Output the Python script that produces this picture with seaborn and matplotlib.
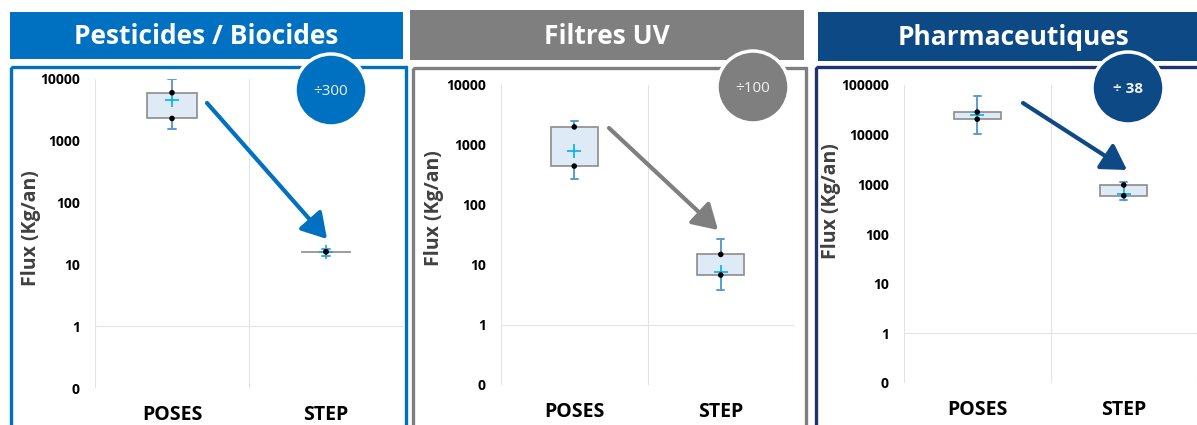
import matplotlib
matplotlib.use("Agg")
import matplotlib.pyplot as plt
import seaborn as sns
import pandas as pd
from matplotlib.patches import Rectangle, Circle, FancyArrowPatch

# ---------------- data ----------------
categories = ["POSES", "STEP"]
titles = ["Pesticides / Biocides", "Filtres UV", "Pharmaceutiques"]
ratios = ["÷300", "÷100", "÷ 38"]
# values per panel: [POSES, STEP]
whislo = [[1550, 13.5], [270, 3.8], [10200, 490]]
q1 = [[2300, 16], [445, 6.8], [20500, 590]]
q3 = [[6000, 16], [2000, 15], [28500, 970]]
whishi = [[10000, 18], [2500, 27], [60000, 1100]]
means = [[4600, 16], [800, 7.6], [25000, 640]]
ymax = [10000, 10000, 100000]
ytick_vals = [[0.1, 1, 10, 100, 1000, 10000],
              [0.1, 1, 10, 100, 1000, 10000],
              [0.1, 1, 10, 100, 1000, 10000, 100000]]
ytick_labels = [["0", "1", "10", "100", "1000", "10000"],
                ["0", "1", "10", "100", "1000", "10000"],
                ["0", "1", "10", "100", "1000", "10000", "100000"]]

# ---------------- style ----------------
sns.set_theme(style="white")
plt.rcParams['font.family'] = ['Open Sans', 'DejaVu Sans']

W, H = 1197, 425
fig = plt.figure(figsize=(W / 100, H / 100), dpi=100)

theme_cols = ["#0070C0", "#7F7F7F", "#0D4A85"]
frame_cols = ["#0070C0", "#7F7F7F", "#1F3370"]
axes_px = [(95, 79, 403, 388), (501, 85, 794, 385), (904, 85, 1197, 383)]
ylabel_pos = [(-0.175, 0.518), (-0.195, 0.59), (-0.215, 0.61)]
xpad = [12, 12, 12]

for i in range(3):
    x0, y0, x1, y1 = axes_px[i]
    ax = fig.add_axes([x0 / W, 1 - y1 / H, (x1 - x0) / W, (y1 - y0) / H])
    ax.set_yscale("log")
    ax.set_xlim(-0.5, 1.5)
    ax.set_ylim(0.1, ymax[i])
    ax.set_facecolor("none")
    for s in ax.spines.values():
        s.set_visible(False)

    # grid lines
    for gx in (-0.5, 0.5, 1.5):
        ax.axvline(gx, color="#E3E3E3", lw=0.8, zorder=0)
    ax.axhline(1, color="#E3E3E3", lw=0.8, zorder=0)

    stats = []
    for j in range(2):
        stats.append(dict(whislo=whislo[i][j], q1=q1[i][j], med=q1[i][j],
                          q3=q3[i][j], whishi=whishi[i][j], mean=means[i][j]))
    ax.bxp(stats, positions=[0, 1], widths=0.32, capwidths=0.05,
           patch_artist=True, showfliers=False, showmeans=False,
           boxprops=dict(facecolor="#DEEBF7", edgecolor="#8C8C8C", lw=1.2),
           whiskerprops=dict(color="#5B9BD5", lw=1.4),
           capprops=dict(color="#5B9BD5", lw=1.4),
           medianprops=dict(visible=False))

    dots = pd.DataFrame({"x": [0, 0, 1, 1],
                         "y": [q1[i][0], q3[i][0], q1[i][1], q3[i][1]]})
    sns.scatterplot(data=dots, x="x", y="y", color="black", s=16,
                    edgecolor="none", ax=ax, zorder=6)
    mdf = pd.DataFrame({"x": [0, 1], "y": means[i]})
    sns.scatterplot(data=mdf, x="x", y="y", marker="+", color="#00B0F0",
                    s=110, linewidth=1.2, ax=ax, zorder=5)

    ax.set_xticks([0, 1])
    ax.set_xticklabels(categories, fontsize=14, fontweight="bold", color="black")
    ax.tick_params(axis="x", length=0, pad=xpad[i])
    ax.set_yticks(ytick_vals[i])
    ax.set_yticklabels(ytick_labels[i], fontsize=10, fontweight="bold", color="black")
    ax.yaxis.set_minor_locator(matplotlib.ticker.NullLocator())
    ax.tick_params(axis="y", length=0, pad=11)
    ax.set_xlabel("")
    ax.set_ylabel("Flux (Kg/an)", fontsize=14, fontweight="bold", color="#404040")
    ax.yaxis.set_label_coords(*ylabel_pos[i])

# ---------------- decorations overlay ----------------
ov = fig.add_axes([0, 0, 1, 1], zorder=10)
ov.set_xlim(0, W)
ov.set_ylim(H, 0)
ov.axis("off")
ov.patch.set_visible(False)

headers = [(10, 12, 403, 59), (410, 10, 804, 60), (818, 12, 1205, 61)]
title_x = [206, 607, 1014]
frames = [(11, 67, 406, 440), (413, 68, 806, 440), (816, 67, 1215, 440)]
circles = [(331, 90), (753, 87), (1128, 88)]
arrows = [((207, 103), (327, 239)), ((609, 128), (718, 230)), ((1023, 103), (1127, 170))]

for i in range(3):
    hx0, hy0, hx1, hy1 = headers[i]
    ov.add_patch(Rectangle((hx0, hy0), hx1 - hx0, hy1 - hy0,
                           facecolor=theme_cols[i], edgecolor="none"))
    ov.text(title_x[i], (hy0 + hy1) / 2 + 1,
            titles[i], color="white", fontsize=19, fontweight="bold",
            ha="center", va="center")
    fx0, fy0, fx1, fy1 = frames[i]
    ov.add_patch(Rectangle((fx0, fy0), fx1 - fx0, fy1 - fy0, facecolor="none",
                           edgecolor=frame_cols[i], lw=2.4, clip_on=False))
    cx, cy = circles[i]
    ov.add_patch(Circle((cx, cy), 36, facecolor=theme_cols[i],
                        edgecolor="white", lw=2.5, zorder=5))
    ov.text(cx, cy + 1, ratios[i], color="#F2F2F2", fontsize=11,
            ha="center", va="center", zorder=6,
            fontweight="bold" if i == 2 else "normal")
    (ax0, ay0), (ax1, ay1) = arrows[i]
    ov.add_patch(FancyArrowPatch((ax0, ay0), (ax1, ay1),
                                 arrowstyle="-|>,head_length=0.75,head_width=0.45",
                                 mutation_scale=20, color=theme_cols[i],
                                 lw=3, shrinkA=0, shrinkB=0, zorder=4))

fig.savefig("out.png", dpi=100)
